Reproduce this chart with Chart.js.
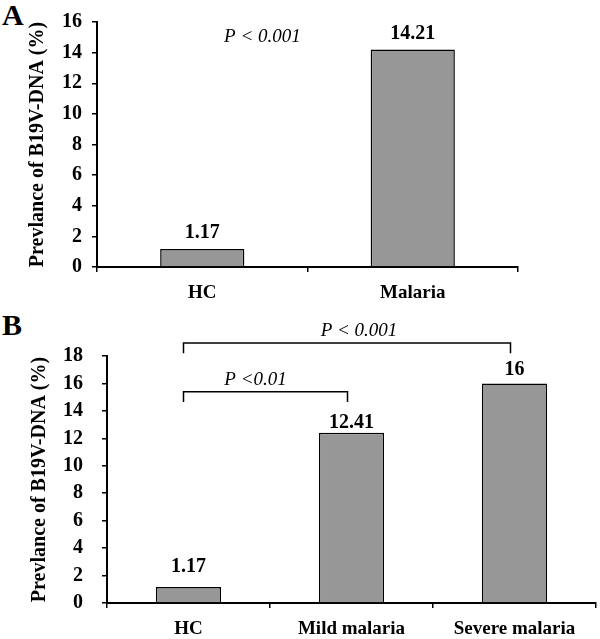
<!DOCTYPE html>
<html>
<head>
<meta charset="utf-8">
<script src="https://cdn.jsdelivr.net/npm/chart.js@4/dist/chart.umd.min.js"></script>
<style>
  body { margin: 0; background: #fff; width: 600px; height: 639px; position: relative; overflow: hidden; }
  canvas { position: absolute; left: 0; }
  #chartA { top: 0; }
  #chartB { top: 305px; }
  .tag { position: absolute; left: 2px; font: bold 30px "Liberation Serif", serif; line-height: 30px; }
</style>
</head>
<body>
<div class="tag" style="top:0">A</div>
<div class="tag" style="top:310px">B</div>
<canvas id="chartA" width="600" height="305"></canvas>
<canvas id="chartB" width="600" height="334"></canvas>
<script>
// Prevalence of B19V-DNA, panel A (HC vs malaria) and panel B (by severity)

var panelACategories = ['HC', 'Malaria'];
var panelAValues = [1.17, 14.21];
var panelAYMax = 16;

var panelBCategories = ['HC', 'Mild malaria', 'Severe malaria'];
var panelBValues = [1.17, 12.41, 16];
var panelBYMax = 18;

var yStep = 2;
var axisTitle = 'Prevlance of B19V-DNA (%)';

// significance notes
var panelAPText = 'P < 0.001';
var compFrom = [0, 0];
var compTo = [1, 2];
var compText = ['P <0.01', 'P < 0.001'];
var compLevel = [15.4, 18.95];

var SERIF = '"Liberation Serif", "Times New Roman", serif';
var BAR_GRAY = '#979797';
var compTextShift = [-10, 12]; // nudges the p-value text along its bracket

var valueLabels = {
  id: 'valueLabels',
  afterDatasetsDraw: function (chart, args, opts) {
    var ctx = chart.ctx;
    var meta = chart.getDatasetMeta(0);
    var data = chart.data.datasets[0].data;
    ctx.save();
    ctx.font = 'bold 20px ' + SERIF;
    ctx.fillStyle = '#000';
    ctx.textAlign = 'center';
    ctx.textBaseline = 'middle';
    meta.data.forEach(function (bar, i) {
      ctx.fillText(String(data[i]), bar.x, bar.y - opts.lift[i]);
    });
    ctx.restore();
  }
};

var pNoteA = {
  id: 'pNoteA',
  afterDraw: function (chart) {
    var ctx = chart.ctx;
    var x = chart.scales.x.getPixelForValue(0.286);
    var y = chart.scales.y.getPixelForValue(15);
    ctx.save();
    ctx.font = 'italic 19px ' + SERIF;
    ctx.fillStyle = '#000';
    ctx.textAlign = 'center';
    ctx.textBaseline = 'middle';
    ctx.fillText(panelAPText, x, y);
    ctx.restore();
  }
};

var brackets = {
  id: 'brackets',
  afterDraw: function (chart) {
    var ctx = chart.ctx;
    var xs = chart.scales.x;
    var ys = chart.scales.y;
    ctx.save();
    ctx.strokeStyle = '#000';
    ctx.lineWidth = 1.5;
    ctx.font = 'italic 19px ' + SERIF;
    ctx.fillStyle = '#000';
    ctx.textAlign = 'center';
    ctx.textBaseline = 'middle';
    for (var i = 0; i < compText.length; i++) {
      var x1 = xs.getPixelForValue(compFrom[i]) - 5;
      var x2 = xs.getPixelForValue(compTo[i]) - 4;
      var y = ys.getPixelForValue(compLevel[i]);
      var yEnd = ys.getPixelForValue(compLevel[i] - 0.75);
      ctx.beginPath();
      ctx.moveTo(x1, yEnd);
      ctx.lineTo(x1, y);
      ctx.lineTo(x2, y);
      ctx.lineTo(x2, yEnd);
      ctx.stroke();
      ctx.fillText(compText[i], (x1 + x2) / 2 + compTextShift[i], y - 12);
    }
    ctx.restore();
  }
};

function makeOptions(yMax, yWidth, xHeight, tickPad, titlePad, pad, lift) {
  return {
    responsive: false,
    animation: false,
    layout: { padding: pad },
    plugins: {
      legend: { display: false },
      tooltip: { enabled: false },
      valueLabels: { lift: lift }
    },
    scales: {
      x: {
        grid: { display: true, offset: true, drawOnChartArea: false, drawTicks: true, tickLength: 5, color: '#000', lineWidth: 1.5 },
        border: { display: true, color: '#000', width: 2 },
        ticks: { color: '#000', padding: 10, font: { family: SERIF, size: 19, weight: 'bold' } },
        afterFit: function (scale) { scale.height = xHeight; }
      },
      y: {
        min: 0,
        max: yMax,
        grid: { display: true, drawOnChartArea: false, drawTicks: true, tickLength: 5, color: '#000', lineWidth: 1.5 },
        border: { display: true, color: '#000', width: 2 },
        ticks: { stepSize: yStep, color: '#000', padding: tickPad, font: { family: SERIF, size: 20, weight: 'bold' } },
        title: {
          display: true,
          text: axisTitle,
          color: '#000',
          padding: { top: titlePad, bottom: 0 },
          font: { family: SERIF, size: 20, weight: 'bold' }
        },
        afterFit: function (scale) { scale.width = yWidth; }
      }
    }
  };
}

function makeDataset(values) {
  return {
    data: values,
    backgroundColor: BAR_GRAY,
    borderColor: '#000',
    borderWidth: 1.5,
    borderSkipped: 'bottom',
    categoryPercentage: 1.0,
    barPercentage: 0.4
  };
}

new Chart(document.getElementById('chartA').getContext('2d'), {
  type: 'bar',
  data: { labels: panelACategories, datasets: [makeDataset(panelAValues)] },
  options: makeOptions(panelAYMax, 97, 38, 10, 26, { left: 0, top: 20, right: 82, bottom: 0 }, [16, 16]),
  plugins: [valueLabels, pNoteA]
});

new Chart(document.getElementById('chartB').getContext('2d'), {
  type: 'bar',
  data: { labels: panelBCategories, datasets: [makeDataset(panelBValues)] },
  options: makeOptions(panelBYMax, 107, 36, 19, 28, { left: 0, top: 51, right: 4, bottom: 0 }, [20, 10, 14]),
  plugins: [valueLabels, brackets]
});
</script>
</body>
</html>
